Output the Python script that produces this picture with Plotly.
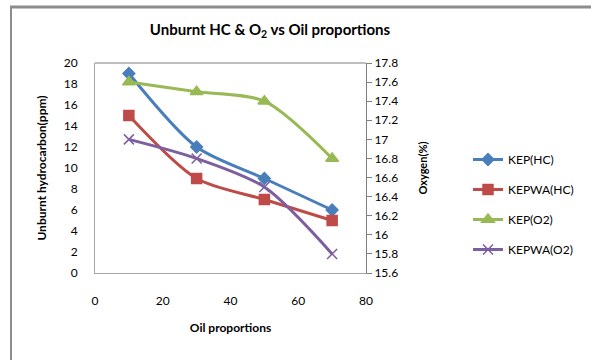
import plotly.graph_objects as go

oil = [10, 30, 50, 70]
kep_hc = [19, 12, 9, 6]
kepwa_hc = [15, 9, 7, 5]
kep_o2 = [17.6, 17.5, 17.4, 16.8]
kepwa_o2 = [17.0, 16.8, 16.5, 15.8]

left_ticks = list(range(0, 21, 2))
right_vals = [15.6, 15.8, 16.0, 16.2, 16.4, 16.6, 16.8, 17.0, 17.2, 17.4, 17.6, 17.8]
right_text = ["15.6", "15.8", "16", "16.2", "16.4", "16.6", "16.8", "17", "17.2", "17.4", "17.6", "17.8"]

FONT = "Lato, 'Open Sans', sans-serif"

# plot area in pixels
L, R, T, B = 95, 366, 63, 273
PW, PH = R - L, B - T

fig = go.Figure()

series = [
    ("KEP(HC)", kep_hc, "y", "#4A7EBB", "diamond", 9),
    ("KEPWA(HC)", kepwa_hc, "y", "#BE4B48", "square", 10),
    ("KEP(O2)", kep_o2, "y2", "#98B954", "triangle-up", 11),
    ("KEPWA(O2)", kepwa_o2, "y2", "#7D5FA0", "x-thin", 10),
]
for i, (name, vals, ax, col, sym, sz) in enumerate(series):
    fig.add_trace(go.Scatter(
        x=oil, y=vals, name=name, yaxis=ax, mode="lines+markers",
        line=dict(color=col, width=3, shape="spline", smoothing=0.8),
        marker=dict(symbol=sym, size=sz, color=col,
                    line=dict(color=col, width=1.5)),
        legendgroup=str(i),
    ))

LIGHT = "#A6A6A6"
DARK = "#7F7F7F"

fig.update_layout(
    width=591, height=360,
    margin=dict(l=L, r=591 - R, t=T, b=360 - B),
    paper_bgcolor="white", plot_bgcolor="white",
    font=dict(family=FONT, size=12, color="#000"),
    title=dict(text="<b>Unburnt HC &amp; O<sub>2</sub> vs Oil proportions</b>",
               x=270 / 591, xanchor="center", y=1 - 30 / 360, yanchor="middle",
               font=dict(size=15, family=FONT)),
    xaxis=dict(range=[0, 80], tickvals=[0, 20, 40, 60, 80], showgrid=False,
               zeroline=False, showline=True, linecolor=LIGHT, linewidth=1,
               ticks="", ticklabelstandoff=17,
               tickfont=dict(size=12),
               title=dict(text="<b>Oil proportions</b>", font=dict(size=12), standoff=16)),
    yaxis=dict(range=[0, 20], tickvals=left_ticks, showgrid=False, zeroline=False,
               showline=True, linecolor=LIGHT, linewidth=1,
               ticks="", ticklabelstandoff=14,
               tickfont=dict(size=12),
               title=dict(text="<b>Unburnt hydrocarbon(ppm)</b>", font=dict(size=12), standoff=14)),
    yaxis2=dict(range=[15.6, 17.8], tickvals=right_vals, ticktext=right_text,
                overlaying="y", side="right", showgrid=False, zeroline=False,
                showline=True, linecolor=DARK, linewidth=1,
                ticks="outside", ticklen=5, tickcolor=DARK,
                tickfont=dict(size=12),
                title=dict(text="<b>Oxygen(%)</b>", font=dict(size=11), standoff=22)),
    legend=dict(x=(468 - L) / PW, xanchor="left", y=(B - 145) / PH, yanchor="top",
                font=dict(size=12), tracegroupgap=11, itemwidth=30,
                bgcolor="rgba(0,0,0,0)"),
    showlegend=True,
)

# top edge of the plot area
fig.add_shape(type="line", xref="paper", yref="paper", x0=0, x1=1, y0=1, y1=1,
              line=dict(color=DARK, width=1))

# chart frame: top and left edges
FRAME = "#8C8C8C"
top_y = (B - 7) / PH
fig.add_shape(type="line", xref="paper", yref="paper",
              x0=(10 - L) / PW, x1=(591 - L) / PW, y0=top_y, y1=top_y,
              line=dict(color=FRAME, width=3))
fig.add_shape(type="line", xref="paper", yref="paper",
              x0=(11 - L) / PW, x1=(11 - L) / PW, y0=top_y, y1=(B - 365) / PH,
              line=dict(color=FRAME, width=2))

fig.write_html("out.html")
